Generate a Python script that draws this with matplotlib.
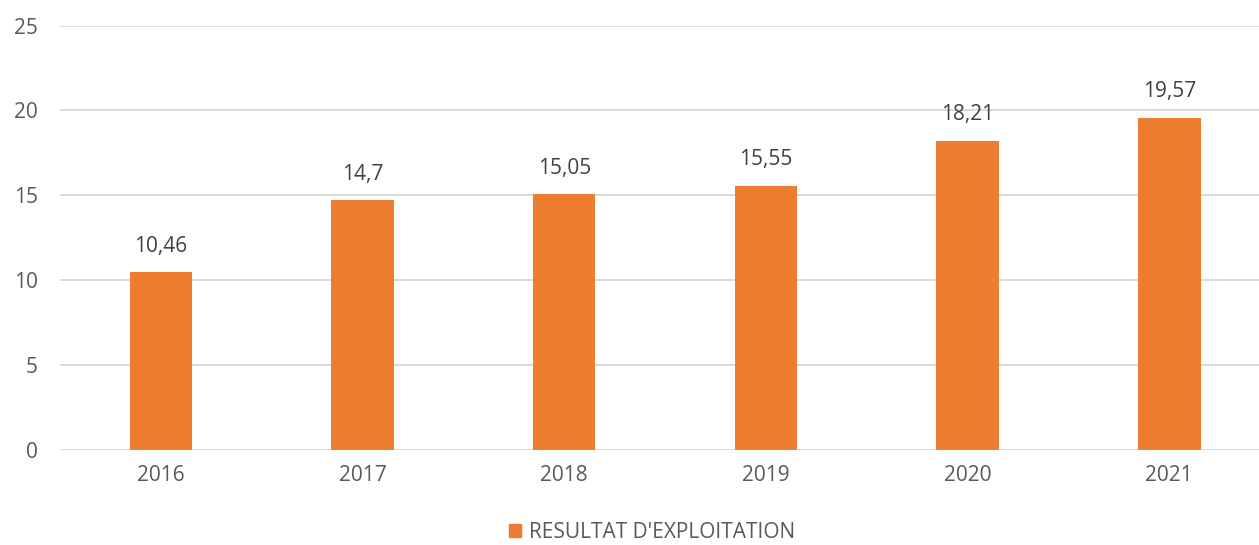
import matplotlib.pyplot as plt
from matplotlib.patches import Patch

annees = ['2016', '2017', '2018', '2019', '2020', '2021']
valeurs = [10.46, 14.7, 15.05, 15.55, 18.21, 19.57]
etiquettes = ['10,46', '14,7', '15,05', '15,55', '18,21', '19,57']

orange = '#ed7d31'
plt.rcParams['font.family'] = ['Open Sans', 'DejaVu Sans']

fig = plt.figure(figsize=(12.59, 5.45), dpi=100)
ax = fig.add_axes([60 / 1259, 95.5 / 545, 1199 / 1259, 424 / 545])

x = range(len(annees))
bars = ax.bar(x, valeurs, width=0.31, color=orange, zorder=3)

for b, lab in zip(bars, etiquettes):
    ax.annotate(lab, (b.get_x() + b.get_width() / 2, b.get_height()),
                xytext=(0, 11), textcoords='offset points',
                ha='center', va='bottom', fontsize=15, color='#404040')

ax.set_ylim(0, 25)
ax.set_xlim(-0.5, 5.445)
ax.set_yticks([0, 5, 10, 15, 20, 25])
ax.set_xticks(list(x))
ax.set_xticklabels(annees)
ax.tick_params(length=0, labelsize=15, labelcolor='#595959')
ax.tick_params(axis='y', pad=16)
ax.tick_params(axis='x', pad=11)
ax.grid(axis='y', color='#d9d9d9', linewidth=1.4, zorder=0)
for s in ax.spines.values():
    s.set_visible(False)

fig.legend(handles=[Patch(color=orange)], labels=["RESULTAT D'EXPLOITATION"],
           loc='center', bbox_to_anchor=(652 / 1259, 1 - 532 / 545),
           frameon=False, fontsize=15, labelcolor='#595959',
           handlelength=0.6, handleheight=0.6, handletextpad=0.4)

fig.savefig('out.png', dpi=100)
